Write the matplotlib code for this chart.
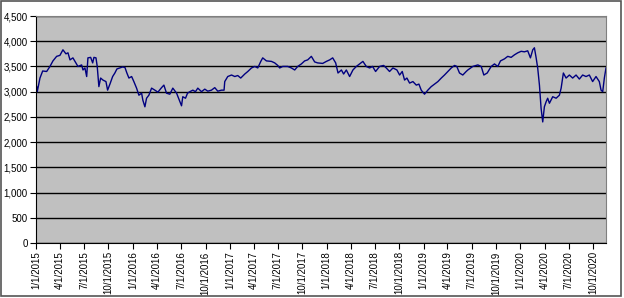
import matplotlib
matplotlib.use("Agg")
import matplotlib.pyplot as plt
import matplotlib.dates as mdates
from matplotlib.patches import Rectangle
import numpy as np
import pandas as pd

plt.rcParams['font.family'] = ['Liberation Sans', 'DejaVu Sans']

# time in years since 1/1/2015
years = [0.007, 0.013, 0.041, 0.069, 0.110, 0.144, 0.175, 0.213, 0.247, 0.278,
         0.309, 0.330, 0.351, 0.381, 0.402, 0.433, 0.471, 0.485, 0.505, 0.523,
         0.536, 0.564, 0.585, 0.598, 0.619, 0.632, 0.649, 0.667, 0.691, 0.722,
         0.739, 0.763, 0.791, 0.814, 0.835, 0.866, 0.894, 0.918, 0.938, 0.959,
         0.987, 1.010, 1.038, 1.062, 1.090, 1.103, 1.124, 1.141, 1.165, 1.193,
         1.227, 1.258, 1.296, 1.320, 1.347, 1.381, 1.412, 1.451, 1.485, 1.502,
         1.515, 1.543, 1.564, 1.588, 1.619, 1.646, 1.670, 1.708, 1.742, 1.773,
         1.811, 1.845, 1.876, 1.914, 1.941, 1.948, 1.979, 2.018, 2.052, 2.082,
         2.113, 2.155, 2.186, 2.224, 2.258, 2.289, 2.320, 2.340, 2.378, 2.430,
         2.464, 2.495, 2.515, 2.546, 2.598, 2.636, 2.670, 2.701, 2.739, 2.773,
         2.804, 2.842, 2.876, 2.907, 2.959, 2.997, 3.031, 3.062, 3.093, 3.117,
         3.152, 3.175, 3.203, 3.237, 3.271, 3.306, 3.340, 3.374, 3.409, 3.443,
         3.474, 3.505, 3.546, 3.588, 3.615, 3.649, 3.684, 3.725, 3.753, 3.780,
         3.804, 3.828, 3.856, 3.890, 3.925, 3.952, 3.976, 4.010, 4.044, 4.079,
         4.113, 4.148, 4.183, 4.216, 4.251, 4.286, 4.320, 4.343, 4.371, 4.405,
         4.440, 4.457, 4.508, 4.560, 4.595, 4.622, 4.657, 4.698, 4.732, 4.766,
         4.794, 4.835, 4.869, 4.904, 4.938, 4.972, 5.007, 5.041, 5.075, 5.103,
         5.127, 5.144, 5.162, 5.178, 5.196, 5.213, 5.230, 5.247, 5.265, 5.281,
         5.299, 5.333, 5.368, 5.402, 5.420, 5.443, 5.471, 5.505, 5.539, 5.574,
         5.608, 5.642, 5.677, 5.711, 5.745, 5.780, 5.814, 5.832, 5.849, 5.866,
         5.883]

values = [3100, 3000, 3270, 3410, 3400, 3500, 3610, 3700, 3720, 3830,
          3750, 3770, 3630, 3670, 3600, 3500, 3530, 3430, 3470, 3300,
          3670, 3680, 3570, 3680, 3670, 3500, 3100, 3270, 3230, 3200,
          3030, 3150, 3300, 3370, 3450, 3470, 3490, 3480, 3370, 3270,
          3300, 3200, 3070, 2930, 2970, 2830, 2700, 2870, 2930, 3070,
          3030, 2990, 3080, 3130, 2970, 2950, 3070, 2970, 2800, 2720,
          2900, 2870, 2970, 3000, 3030, 3000, 3070, 3000, 3050, 3010,
          3030, 3080, 3010, 3030, 3030, 3200, 3300, 3330, 3300, 3320,
          3270, 3350, 3400, 3470, 3500, 3470, 3600, 3670, 3610, 3600,
          3570, 3520, 3470, 3500, 3500, 3470, 3430, 3500, 3550, 3610,
          3630, 3700, 3590, 3570, 3560, 3600, 3630, 3670, 3570, 3370,
          3430, 3350, 3430, 3300, 3430, 3500, 3550, 3600, 3500, 3470,
          3500, 3400, 3500, 3520, 3470, 3400, 3470, 3430, 3330, 3400,
          3230, 3270, 3170, 3200, 3130, 3150, 3030, 2950, 3030, 3100,
          3150, 3200, 3270, 3330, 3400, 3470, 3520, 3500, 3370, 3330,
          3400, 3430, 3500, 3530, 3500, 3330, 3370, 3500, 3550, 3500,
          3610, 3650, 3700, 3680, 3730, 3770, 3800, 3790, 3810, 3670,
          3830, 3870, 3670, 3470, 3130, 2670, 2400, 2700, 2800, 2870,
          2770, 2900, 2870, 2930, 3070, 3370, 3270, 3330, 3270, 3330,
          3250, 3330, 3300, 3330, 3200, 3300, 3200, 3030, 3000, 3270,
          3470]

start = pd.Timestamp('2015-01-01')
dates = start + pd.to_timedelta(np.array(years) * 365.25, unit='D')

fig = plt.figure(figsize=(6.24, 2.98), dpi=100)
fig.patch.set_facecolor('white')
fig.patches.append(Rectangle((0.001, 0.008), 0.994, 0.99, transform=fig.transFigure,
                             fill=False, edgecolor='#555555', linewidth=1.2))

ax = fig.add_axes([36/624, 55/298, 570/624, 227/298])
ax.set_facecolor('#C0C0C0')
ax.plot(dates, values, color='#000080', linewidth=1.0)

ax.set_ylim(0, 4500)
ax.set_yticks(np.arange(0, 4501, 500))
ax.yaxis.set_major_formatter(plt.FuncFormatter(lambda v, p: f"{int(v):,}"))
ax.grid(axis='y', color='black', linewidth=1.0)
ax.set_axisbelow(True)

ax.set_xlim(start, dates[-1])
ax.xaxis.set_major_locator(mdates.MonthLocator(bymonth=[1, 4, 7, 10], bymonthday=1))
ax.xaxis.set_major_formatter(plt.FuncFormatter(
    lambda v, p: (lambda d: f"{d.month}/{d.day}/{d.year}")(mdates.num2date(v))))

for lbl in ax.get_xticklabels():
    lbl.set_rotation(90)
ax.tick_params(axis='x', labelsize=7, rotation=90, length=4, direction='out', pad=2)
ax.tick_params(axis='y', labelsize=7, length=4, direction='out', pad=2)

for s in ['top', 'right']:
    ax.spines[s].set_color('#808080')
ax.spines['left'].set_color('black')
ax.spines['bottom'].set_color('black')

fig.savefig('out.png', dpi=100)
